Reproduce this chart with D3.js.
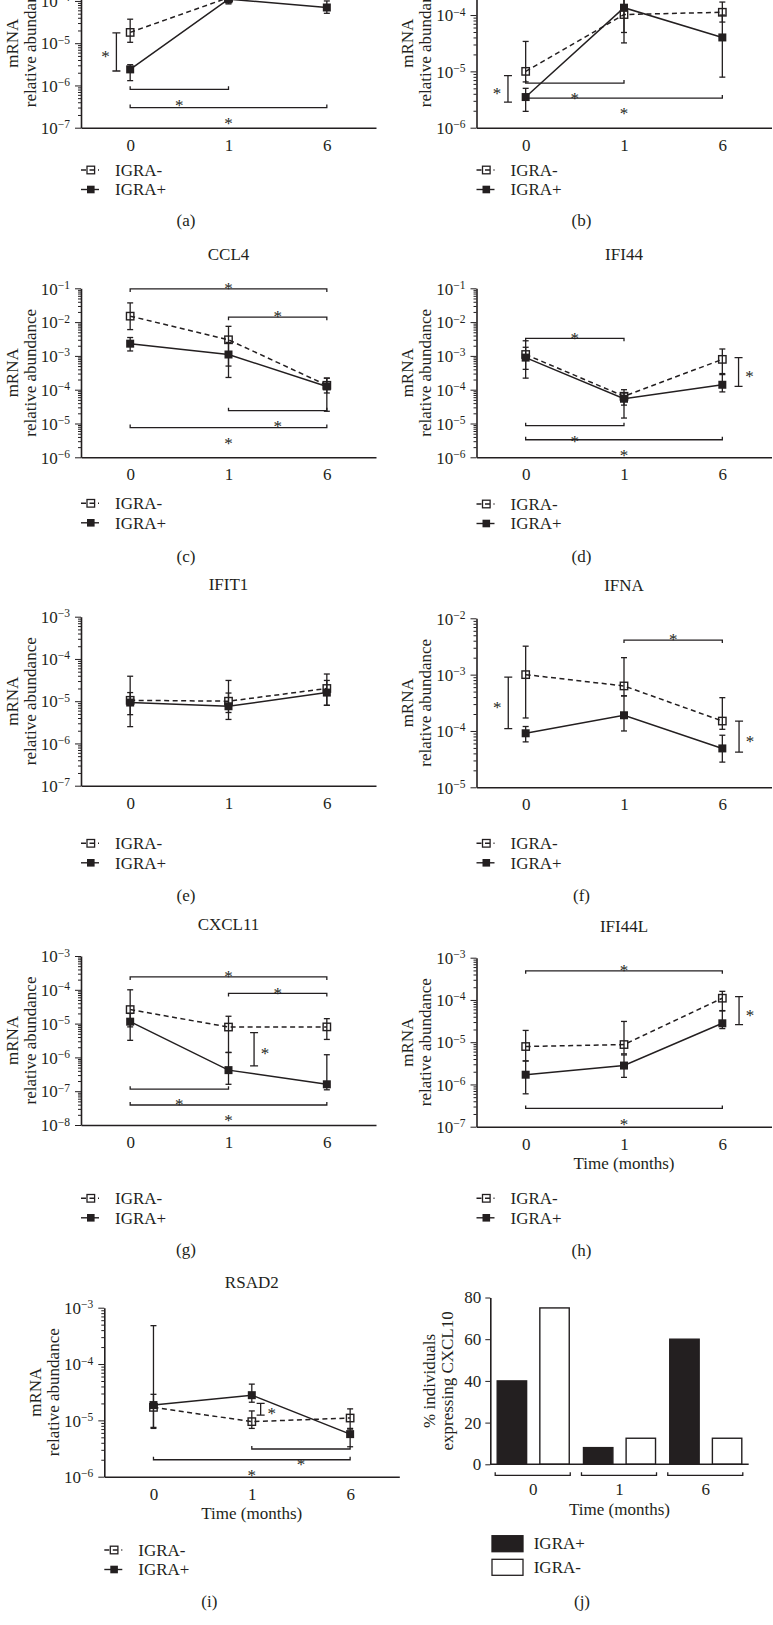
<!DOCTYPE html>
<html lang="en">
<head>
<meta charset="utf-8">
<title>mRNA relative abundance over time, IGRA+ vs IGRA-</title>
<script src="https://cdn.jsdelivr.net/npm/d3@7"></script>
<style>
  body { margin: 0; background: #fff; }
  svg { display: block; font-family: "Liberation Serif", "Times New Roman", serif; color: #231f20; }
</style>
</head>
<body>
<script>

// ---------- data ----------

// time points (months)
var months = ["0", "1", "6"];

// every point is [mean, low whisker, high whisker]
var aNeg = [[1.8e-5, 1.05e-5, 3.7e-5], [1.2e-4, 9e-5, 2.5e-4], [2.5e-4, 1.5e-4, 4e-4]];
var aPos = [[2.4e-6, 1.3e-6, 3.1e-6], [1.1e-4, 8.5e-5, 2.5e-4], [7e-5, 5.1e-5, 1.0e-4]];

var bNeg = [[1.0e-5, 6.5e-6, 3.4e-5], [1.02e-4, 4.9e-5, 2.5e-4], [1.12e-4, 7.5e-5, 1.7e-4]];
var bPos = [[3.5e-6, 1.95e-6, 5e-6], [1.35e-4, 3.2e-5, 3e-4], [4.0e-5, 7.9e-6, 1.0e-4]];

var ccl4Neg = [[1.5e-2, 6e-3, 3.7e-2], [3.0e-3, 5e-4, 7.5e-3], [1.35e-4, 8e-5, 2.2e-4]];
var ccl4Pos = [[2.3e-3, 1.4e-3, 3.5e-3], [1.1e-3, 2.3e-4, 2.5e-3], [1.25e-4, 2.3e-5, 2.2e-4]];

var ifi44Neg = [[1.1e-3, 4e-4, 2.8e-3], [6.4e-5, 3.5e-5, 1.0e-4], [7.9e-4, 3e-4, 1.6e-3]];
var ifi44Pos = [[8.9e-4, 2.2e-4, 1.8e-3], [5.4e-5, 1.45e-5, 8e-5], [1.4e-4, 8.6e-5, 2.8e-4]];

var ifit1Neg = [[1.05e-5, 4.8e-6, 3.9e-5], [1.0e-5, 5.4e-6, 3.1e-5], [2.0e-5, 8e-6, 4.4e-5]];
var ifit1Pos = [[9.3e-6, 2.5e-6, 1.6e-5], [7.6e-6, 3.7e-6, 1.56e-5], [1.6e-5, 8e-6, 3.1e-5]];

var ifnaNeg = [[1.0e-3, 1.7e-4, 3.2e-3], [6.3e-4, 4.2e-4, 2.0e-3], [1.5e-4, 1.07e-4, 3.9e-4]];
var ifnaPos = [[9.1e-5, 6.4e-5, 1.2e-4], [1.9e-4, 1.0e-4, 4.2e-4], [4.9e-5, 2.8e-5, 8.4e-5]];

var cxcl11Neg = [[2.6e-5, 8e-6, 1.0e-4], [7.9e-6, 1.4e-6, 1.65e-5], [8.0e-6, 3.4e-6, 1.4e-5]];
var cxcl11Pos = [[1.14e-5, 3.2e-6, 2e-5], [4.2e-7, 1.6e-7, 1.4e-6], [1.6e-7, 1.1e-7, 1.2e-6]];

var ifi44lNeg = [[7.9e-6, 3.6e-6, 1.9e-5], [8.8e-6, 5.3e-6, 3.1e-5], [1.1e-4, 5.6e-5, 1.6e-4]];
var ifi44lPos = [[1.7e-6, 6e-7, 3.6e-6], [2.8e-6, 1.47e-6, 5e-6], [2.8e-5, 2.1e-5, 5.5e-5]];

var rsad2Neg = [[1.7e-5, 7.2e-6, 2.9e-5], [9.5e-6, 7.2e-6, 1.47e-5], [1.1e-5, 7e-6, 1.6e-5]];
var rsad2Pos = [[1.87e-5, 7.5e-6, 4.8e-4], [2.8e-5, 2.1e-5, 4.4e-5], [5.7e-6, 3.4e-6, 7.2e-6]];

// significance brackets between time points: [from, to, level, star side]
var aSigH = [[0, 1, 8.1e-7, "below"], [0, 2, 3.0e-7, "below"]];
var bSigH = [[0, 1, 6.2e-6, "below"], [0, 2, 3.35e-6, "below"]];
var ccl4SigH = [[0, 2, 9.6e-2, "above"], [1, 2, 1.4e-2, "above"], [1, 2, 2.4e-5, "below"], [0, 2, 7.6e-6, "below"]];
var ifi44SigH = [[0, 1, 3.3e-3, "above"], [0, 1, 8.6e-6, "below"], [0, 2, 3.3e-6, "below"]];
var ifnaSigH = [[1, 2, 4.1e-3, "above"]];
var cxcl11SigH = [[0, 2, 2.4e-4, "above"], [1, 2, 7.8e-5, "above"], [0, 1, 1.15e-7, "below"], [0, 2, 3.9e-8, "below"]];
var ifi44lSigH = [[0, 2, 4.9e-4, "above"], [0, 2, 2.7e-7, "below"]];
var rsad2SigH = [[1, 2, 3.1e-6, "below"], [0, 2, 2.0e-6, "below"]];

// significance brackets between groups: [time position, level 1, level 2, star side]
var aSigV = [[-0.14, 1.76e-5, 2.2e-6, "left"]];
var bSigV = [[-0.18, 8.4e-6, 2.85e-6, "left"]];
var ifi44SigV = [[2.165, 8.9e-4, 1.25e-4, "right"]];
var ifnaSigV = [[-0.177, 9e-4, 1.1e-4, "left"], [2.17, 1.5e-4, 4.2e-5, "right"]];
var cxcl11SigV = [[1.26, 5.4e-6, 5.6e-7, "right"]];
var ifi44lSigV = [[2.17, 1.2e-4, 2.6e-5, "right"]];
var rsad2SigV = [[1.09, 2.0e-5, 1.24e-5, "right"]];

// panel (j): % individuals expressing CXCL10
var barGroups = ["0", "1", "6"];
var barSeries = ["IGRA+", "IGRA-"];
var pctPos = [40, 8, 60];
var pctNeg = [75, 12.5, 12.5];
var pctTicks = [0, 20, 40, 60, 80];

// ---------- layout ----------

var W = 773, H = 1625;
var plotW = 295, plotH = 169;
var ink = "#231f20";
var fs = 17;

var panels = [
  { letter: "(a)", title: null,     neg: aNeg,      pos: aPos,      sigH: aSigH,      sigV: aSigV,      domain: [1e-7, 1e-3], left: 81,    bottom: 127.7,  titleY: null,  legendY: 170,    letterY: 220 },
  { letter: "(b)", title: null,     neg: bNeg,      pos: bPos,      sigH: bSigH,      sigV: bSigV,      domain: [1e-6, 1e-3], left: 476.5, bottom: 127.7,  titleY: null,  legendY: 170,    letterY: 220 },
  { letter: "(c)", title: "CCL4",   neg: ccl4Neg,   pos: ccl4Pos,   sigH: ccl4SigH,   sigV: [],         domain: [1e-6, 1e-1], left: 81,    bottom: 457.3,  titleY: 254,   legendY: 503.3,  letterY: 556 },
  { letter: "(d)", title: "IFI44",  neg: ifi44Neg,  pos: ifi44Pos,  sigH: ifi44SigH,  sigV: ifi44SigV,  domain: [1e-6, 1e-1], left: 476.5, bottom: 457.3,  titleY: 254,   legendY: 504,    letterY: 556.7 },
  { letter: "(e)", title: "IFIT1",  neg: ifit1Neg,  pos: ifit1Pos,  sigH: [],         sigV: [],         domain: [1e-7, 1e-3], left: 81,    bottom: 785.7,  titleY: 584,   legendY: 843.3,  letterY: 895 },
  { letter: "(f)", title: "IFNA",   neg: ifnaNeg,   pos: ifnaPos,   sigH: ifnaSigH,   sigV: ifnaSigV,   domain: [1e-5, 1e-2], left: 476.5, bottom: 787.3,  titleY: 585,   legendY: 843.3,  letterY: 895 },
  { letter: "(g)", title: "CXCL11", neg: cxcl11Neg, pos: cxcl11Pos, sigH: cxcl11SigH, sigV: cxcl11SigV, domain: [1e-8, 1e-3], left: 81,    bottom: 1125,   titleY: 924,   legendY: 1198.3, letterY: 1249 },
  { letter: "(h)", title: "IFI44L", neg: ifi44lNeg, pos: ifi44lPos, sigH: ifi44lSigH, sigV: ifi44lSigV, domain: [1e-7, 1e-3], left: 476.5, bottom: 1126.7, titleY: 926.7, legendY: 1198.3, letterY: 1250, xTitleY: 1163.3 },
  { letter: "(i)", title: "RSAD2",  neg: rsad2Neg,  pos: rsad2Pos,  sigH: rsad2SigH,  sigV: rsad2SigV,  domain: [1e-6, 1e-3], left: 104.3, bottom: 1476.7, titleY: 1282,  legendY: 1550,   letterY: 1601.7, xTitleY: 1513.3 }
];

var svg = d3.select("body")
  .append("svg")
  .attr("width", W)
  .attr("height", H);

function addText(g, x, y, str, size, anchor) {
  return g.append("text")
    .attr("x", x)
    .attr("y", y)
    .attr("dy", "0.34em")
    .attr("text-anchor", anchor || "middle")
    .attr("font-size", size || fs)
    .attr("fill", ink)
    .text(str);
}

function cleanAxis(sel) {
  sel.attr("font-family", null).attr("font-size", fs);
  sel.select(".domain").attr("stroke-width", 1.6);
}

function drawPanel(p) {
  var g = svg.append("g");

  var x = d3.scaleLinear().domain([-0.5, 2.5]).range([p.left, p.left + plotW]);
  var y = d3.scaleLog().domain(p.domain).range([p.bottom, p.bottom - plotH]);

  var lo = Math.round(Math.log10(p.domain[0]));
  var hi = Math.round(Math.log10(p.domain[1]));
  var major = d3.range(lo, hi + 1).map(function(e) { return Math.pow(10, e); });
  var minor = [];
  d3.range(lo, hi).forEach(function(e) {
    for (var m = 2; m <= 9; m++) minor.push(m * Math.pow(10, e));
  });

  // y axis: minor ticks, then major ticks with 10^n labels
  g.append("g")
    .attr("transform", "translate(" + p.left + ",0)")
    .call(d3.axisLeft(y).tickValues(minor).tickSize(3).tickFormat(""))
    .call(function(s) { s.select(".domain").remove(); });

  var ya = g.append("g")
    .attr("transform", "translate(" + p.left + ",0)")
    .call(d3.axisLeft(y).tickValues(major).tickSize(6).tickSizeOuter(0).tickPadding(5).tickFormat(""))
    .call(cleanAxis);

  ya.selectAll(".tick text").each(function(d) {
    var t = d3.select(this).attr("dy", "0.34em");
    var e = Math.round(Math.log10(d));
    t.append("tspan").text("10");
    t.append("tspan").attr("dy", "-0.5em").attr("font-size", 11.5).text("\u2212" + Math.abs(e));
  });

  // x axis
  g.append("g")
    .attr("transform", "translate(0," + p.bottom + ")")
    .call(d3.axisBottom(x).tickValues([0, 1, 2]).tickSize(0).tickSizeOuter(0).tickPadding(11)
      .tickFormat(function(i) { return months[i]; }))
    .call(cleanAxis);

  // y axis label
  var cy = p.bottom - plotH / 2;
  [["mRNA", -69], ["relative abundance", -51]].forEach(function(l) {
    g.append("text")
      .attr("transform", "translate(" + (p.left + l[1]) + "," + cy + ") rotate(-90)")
      .attr("dy", "0.34em")
      .attr("text-anchor", "middle")
      .attr("font-size", fs)
      .attr("fill", ink)
      .text(l[0]);
  });

  var cx = p.left + plotW / 2;
  if (p.title) addText(g, cx, p.titleY, p.title);
  if (p.xTitleY) addText(g, cx, p.xTitleY, "Time (months)");
  addText(g, p.left + 105, p.letterY, p.letter);

  // lines
  var line = d3.line()
    .x(function(d, i) { return x(i); })
    .y(function(d) { return y(d[0]); });

  g.append("path")
    .attr("d", line(p.neg))
    .attr("fill", "none")
    .attr("stroke", ink)
    .attr("stroke-width", 1.5)
    .attr("stroke-dasharray", "5,3.5");

  g.append("path")
    .attr("d", line(p.pos))
    .attr("fill", "none")
    .attr("stroke", ink)
    .attr("stroke-width", 1.5);

  // error bars
  [p.neg, p.pos].forEach(function(series) {
    var eb = g.append("g").attr("stroke", ink).attr("stroke-width", 1.3);
    series.forEach(function(d, i) {
      eb.append("line").attr("x1", x(i)).attr("x2", x(i)).attr("y1", y(d[1])).attr("y2", y(d[2]));
      eb.append("line").attr("x1", x(i) - 3).attr("x2", x(i) + 3).attr("y1", y(d[1])).attr("y2", y(d[1]));
      eb.append("line").attr("x1", x(i) - 3).attr("x2", x(i) + 3).attr("y1", y(d[2])).attr("y2", y(d[2]));
    });
  });

  // markers
  g.selectAll(".mneg")
    .data(p.neg)
    .enter()
    .append("rect")
    .attr("x", function(d, i) { return x(i) - 3.7; })
    .attr("y", function(d) { return y(d[0]) - 3.7; })
    .attr("width", 7.4)
    .attr("height", 7.4)
    .attr("fill", "none")
    .attr("stroke", ink)
    .attr("stroke-width", 1.4);

  g.selectAll(".mpos")
    .data(p.pos)
    .enter()
    .append("rect")
    .attr("x", function(d, i) { return x(i) - 4; })
    .attr("y", function(d) { return y(d[0]) - 4; })
    .attr("width", 8)
    .attr("height", 8)
    .attr("fill", ink);

  // significance brackets
  var sg = g.append("g").attr("stroke", ink).attr("stroke-width", 1.3).attr("fill", "none");
  p.sigH.forEach(function(b) {
    var yy = y(b[2]);
    var tick = b[3] === "below" ? -3 : 3;
    sg.append("path")
      .attr("d", "M" + x(b[0]) + "," + (yy + tick) + "V" + yy + "H" + x(b[1]) + "V" + (yy + tick));
    addText(g, (x(b[0]) + x(b[1])) / 2, b[3] === "below" ? yy + 11 : yy - 5, "*").attr("dy", "0.6em");
  });
  p.sigV.forEach(function(b) {
    var xx = x(b[0]), y1 = y(b[1]), y2 = y(b[2]);
    sg.append("path")
      .attr("d", "M" + (xx - 4) + "," + y1 + "H" + (xx + 4) + "M" + xx + "," + y1 + "V" + y2 + "M" + (xx - 4) + "," + y2 + "H" + (xx + 4));
    addText(g, b[3] === "left" ? xx - 11 : xx + 11, (y1 + y2) / 2, "*").attr("dy", "0.6em");
  });

  // legend
  var lg = g.append("g");
  [["IGRA-", p.legendY, true], ["IGRA+", p.legendY + 19.5, false]].forEach(function(l) {
    lg.append("line")
      .attr("x1", p.left).attr("x2", p.left + 18)
      .attr("y1", l[1]).attr("y2", l[1])
      .attr("stroke", ink)
      .attr("stroke-width", 1.4)
      .attr("stroke-dasharray", l[2] ? "5,3.5" : null);
    lg.append("rect")
      .attr("x", p.left + 6).attr("y", l[1] - 3.8)
      .attr("width", 7.6).attr("height", 7.6)
      .attr("fill", l[2] ? "none" : ink)
      .attr("stroke", ink)
      .attr("stroke-width", l[2] ? 1.3 : 0);
    addText(lg, p.left + 34, l[1], l[0], fs, "start");
  });
}

panels.forEach(drawPanel);

// ---------- panel (j): bar chart ----------

var jLeft = 490.3, jRight = 748.7, jBottom = 1464.3, jTop = 1297.5;
var jg = svg.append("g");

var gx = d3.scaleBand()
  .domain(barGroups)
  .range([jLeft, jRight])
  .paddingInner(0.165)
  .paddingOuter(0.08);

var sx = d3.scaleBand()
  .domain(barSeries)
  .range([0, gx.bandwidth()])
  .paddingInner(0.31);

var jy = d3.scaleLinear().domain([0, 80]).range([jBottom, jTop]);

var barData = [];
barGroups.forEach(function(gr, i) {
  barData.push({ group: gr, series: "IGRA+", value: pctPos[i] });
  barData.push({ group: gr, series: "IGRA-", value: pctNeg[i] });
});

jg.selectAll("rect.bar")
  .data(barData)
  .enter()
  .append("rect")
  .attr("class", "bar")
  .attr("x", function(d) { return gx(d.group) + sx(d.series); })
  .attr("y", function(d) { return jy(d.value); })
  .attr("width", sx.bandwidth())
  .attr("height", function(d) { return jBottom - jy(d.value); })
  .attr("fill", function(d) { return d.series === "IGRA+" ? ink : "#fff"; })
  .attr("stroke", ink)
  .attr("stroke-width", 1.4);

jg.append("g")
  .attr("transform", "translate(" + jLeft + ",0)")
  .call(d3.axisLeft(jy).tickValues(pctTicks).tickSize(5).tickSizeOuter(0).tickPadding(4))
  .call(cleanAxis);

jg.append("line")
  .attr("x1", jLeft).attr("x2", jRight)
  .attr("y1", jBottom).attr("y2", jBottom)
  .attr("stroke", ink)
  .attr("stroke-width", 1.6);

// group brackets under the axis
barGroups.forEach(function(gr) {
  var x0 = gx(gr) - 2, x1 = gx(gr) + gx.bandwidth() + 1;
  jg.append("path")
    .attr("d", "M" + x0 + "," + (jBottom + 8) + "V" + (jBottom + 11) + "H" + x1 + "V" + (jBottom + 8))
    .attr("fill", "none")
    .attr("stroke", ink)
    .attr("stroke-width", 1.3);
  addText(jg, gx(gr) + gx.bandwidth() / 2, jBottom + 25, gr);
});

addText(jg, (jLeft + jRight) / 2, 1509, "Time (months)");

[["% individuals", -61], ["expressing CXCL10", -42.6]].forEach(function(l) {
  jg.append("text")
    .attr("transform", "translate(" + (jLeft + l[1]) + "," + ((jTop + jBottom) / 2) + ") rotate(-90)")
    .attr("dy", "0.34em")
    .attr("text-anchor", "middle")
    .attr("font-size", fs)
    .attr("fill", ink)
    .text(l[0]);
});

// legend (j)
barSeries.forEach(function(s, i) {
  var ly = 1535.7 + i * 23.6;
  jg.append("rect")
    .attr("x", 492).attr("y", ly)
    .attr("width", 31).attr("height", 16)
    .attr("fill", s === "IGRA+" ? ink : "#fff")
    .attr("stroke", ink)
    .attr("stroke-width", 1.3);
  addText(jg, 533.7, ly + 8, s, fs, "start");
});

addText(jg, 582, 1601.7, "(j)");

</script>
</body>
</html>
